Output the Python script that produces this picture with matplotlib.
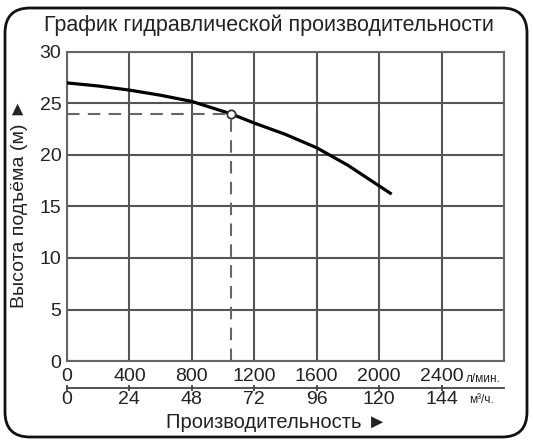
import numpy as np
import matplotlib.pyplot as plt
import matplotlib.patches as mpatches
from matplotlib.transforms import IdentityTransform

plt.rcParams['font.family'] = ['Liberation Sans', 'DejaVu Sans']

# head curve (л/мин -> м)
flow = [0, 200, 400, 600, 800, 1050, 1200, 1400, 1600, 1800, 2000, 2080]
head = [27.0, 26.7, 26.3, 25.8, 25.2, 24.0, 23.1, 22.0, 20.7, 19.0, 17.0, 16.2]

# working point
op_flow = 1050
op_head = 24

lpm_ticks = [0, 400, 800, 1200, 1600, 2000, 2400]
m3h_labels = ['0', '24', '48', '72', '96', '120', '144']
head_ticks = [0, 5, 10, 15, 20, 25, 30]

W, H = 533, 445
fig = plt.figure(figsize=(W / 100, H / 100), dpi=100)

ax = fig.add_axes([67 / W, 1 - 361 / H, (504 - 67) / W, (361 - 52) / H])
ax.set_xlim(0, 2800)
ax.set_ylim(0, 30)
ax.set_xticks(np.arange(0, 2801, 400))
ax.set_xticklabels(lpm_ticks + [''])
ax.set_yticks(head_ticks)
ax.grid(True, color='#555555', linewidth=1.5)
for s in ax.spines.values():
    s.set_color('#666666')
    s.set_linewidth(1.5)
ax.tick_params(length=0, labelsize=14, colors='#222222')
ax.tick_params(axis='x', pad=5)
ax.tick_params(axis='y', pad=4)

ax.plot(flow, head, color='black', linewidth=2.3, solid_capstyle='butt', zorder=3)
ax.plot([0, op_flow], [op_head, op_head], color='#666666', linewidth=1.5,
        dashes=(6, 4), zorder=3)
ax.plot([op_flow, op_flow], [0, op_head], color='#666666', linewidth=1.5,
        dashes=(6, 4), zorder=3)
ax.plot(op_flow, op_head, 'o', markersize=6, markerfacecolor='white',
        markeredgecolor='#333333', markeredgewidth=1.3, zorder=4)

# second scale (м3/ч)
ax2 = fig.add_axes([67 / W, 1 - 388 / H, (504 - 67) / W, 0.0001])
ax2.set_xlim(0, 2800)
ax2.set_xticks(lpm_ticks)
ax2.set_xticklabels(m3h_labels)
ax2.set_yticks([])
for k in ['top', 'left', 'right']:
    ax2.spines[k].set_visible(False)
ax2.spines['bottom'].set_color('#444444')
ax2.spines['bottom'].set_linewidth(1.3)
ax2.tick_params(axis='x', direction='inout', length=4, width=1.3,
                color='#444444', labelsize=14, labelcolor='#222222', pad=0)
ax2.patch.set_visible(False)

fig.text(466 / W, 1 - 379 / H, 'л/мин.', fontsize=8.5, ha='left', va='center', color='#222222')
fig.text(469 / W, 1 - 400 / H, 'м³/ч.', fontsize=8.5, ha='left', va='center', color='#222222')

fig.text(269 / W, 1 - 25 / H, 'График гидравлической производительности',
         fontsize=15.5, ha='center', va='center', color='#222222')
fig.text(276 / W, 1 - 423 / H, 'Производительность ►',
         fontsize=14.5, ha='center', va='center', color='#222222')
fig.text(20 / W, 1 - 203 / H, 'Высота подъёма (м) ►', rotation=90,
         fontsize=14, ha='center', va='center', color='#222222')

border = mpatches.FancyBboxPatch((5, H - 437), 522, 429,
                                 boxstyle='round,pad=0,rounding_size=25',
                                 transform=IdentityTransform(),
                                 facecolor='none', edgecolor='#111111',
                                 linewidth=2)
fig.patches.append(border)

fig.savefig('out.png', dpi=100)
